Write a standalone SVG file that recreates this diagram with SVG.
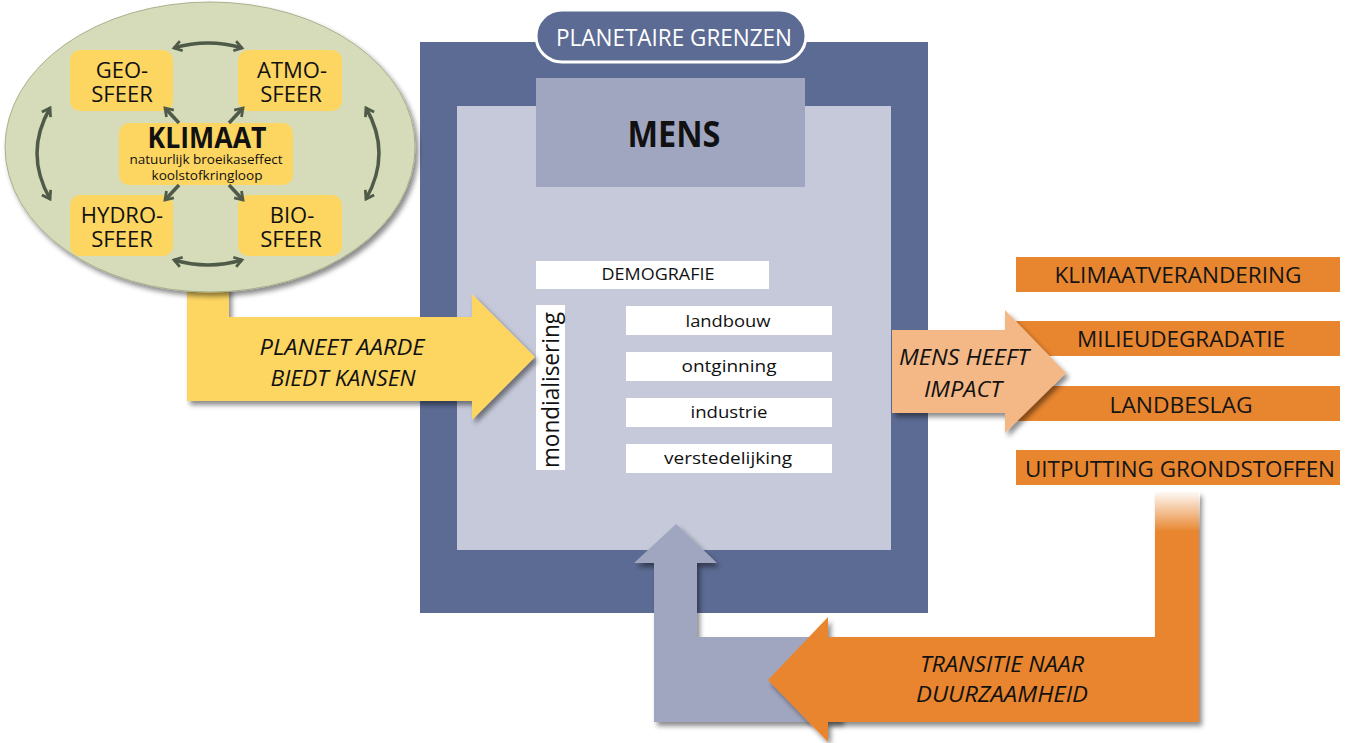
<svg xmlns="http://www.w3.org/2000/svg" width="1346" height="743" viewBox="0 0 1346 743">
<defs>
<style>
text{font-family:"Open Sans","Liberation Sans",sans-serif;}
.sph{font-size:22px;fill:#111;text-anchor:middle;}
.ybox{fill:#fdd662;}
.wbox{fill:#ffffff;}
.act{font-size:17px;fill:#111;text-anchor:middle;}
.olab{fill:#e8852f;}
.otxt{font-size:21px;fill:#151515;text-anchor:middle;}
.ital{font-size:21px;font-style:italic;fill:#111;text-anchor:middle;}
.conn{fill:none;stroke:#4f5a48;stroke-width:3.5;}
</style>
<filter id="sh" x="-10%" y="-10%" width="130%" height="130%">
<feDropShadow dx="3" dy="4" stdDeviation="2.5" flood-color="#000" flood-opacity="0.45"/>
</filter>
<marker id="ah" viewBox="0 0 10 10" refX="7" refY="5" markerWidth="3.6" markerHeight="3.6" orient="auto-start-reverse" markerUnits="strokeWidth">
<path d="M1,1 L7,5 L1,9" fill="none" stroke="#4f5a48" stroke-width="2.2"/>
</marker>
<linearGradient id="fade" x1="0" y1="0" x2="0" y2="1">
<stop offset="0" stop-color="#fff" stop-opacity="1"/>
<stop offset="1" stop-color="#fff" stop-opacity="0"/>
</linearGradient>
</defs>
<rect width="1346" height="743" fill="#fff"/>

<g id="planetaire-grenzen">
<rect x="420" y="42" width="508" height="571" fill="#5c6b93"/>
<rect x="457" y="106" width="434" height="444" fill="#c5c9d9"/>
<rect x="536" y="10" width="270" height="52" rx="26" fill="#5c6b93" stroke="#fff" stroke-width="3"/>
<text x="674" y="46" font-size="24" fill="#fff" text-anchor="middle" textLength="236" lengthAdjust="spacingAndGlyphs">PLANETAIRE GRENZEN</text>
</g>

<g id="mens">
<rect x="536" y="78" width="269" height="109" fill="#a1a6c0"/>
<text x="674" y="147" font-size="35" font-weight="bold" fill="#111" text-anchor="middle" textLength="93" lengthAdjust="spacingAndGlyphs">MENS</text>
</g>

<g id="demografie">
<rect class="wbox" x="536" y="261" width="233" height="28"/>
<text x="658" y="280" font-size="16" fill="#111" text-anchor="middle" textLength="113" lengthAdjust="spacingAndGlyphs">DEMOGRAFIE</text>
</g>
<g id="mondialisering">
<rect class="wbox" x="536" y="305" width="29" height="165"/>
<text x="0" y="0" font-size="23" fill="#111" text-anchor="middle" transform="translate(559,390) rotate(-90)" textLength="156" lengthAdjust="spacingAndGlyphs">mondialisering</text>
</g>
<g id="landbouw">
<rect class="wbox" x="626" y="306" width="206" height="29"/>
<text class="act" x="728" y="327" textLength="85" lengthAdjust="spacingAndGlyphs">landbouw</text>
</g>
<g id="ontginning">
<rect class="wbox" x="626" y="352" width="206" height="29"/>
<text class="act" x="729" y="372" textLength="95" lengthAdjust="spacingAndGlyphs">ontginning</text>
</g>
<g id="industrie">
<rect class="wbox" x="626" y="398" width="206" height="29"/>
<text class="act" x="729" y="418" textLength="77" lengthAdjust="spacingAndGlyphs">industrie</text>
</g>
<g id="verstedelijking">
<rect class="wbox" x="626" y="444" width="206" height="29"/>
<text class="act" x="728" y="464" textLength="128" lengthAdjust="spacingAndGlyphs">verstedelijking</text>
</g>

<g id="arrow-planeet">
<path d="M187,285 L229,285 L229,317 L472,317 L472,294 L535,357 L472,420 L472,401 L187,401 Z" fill="#fdd662" filter="url(#sh)"/>
<text class="ital" x="342" y="355" textLength="165" lengthAdjust="spacingAndGlyphs">PLANEET AARDE</text>
<text class="ital" x="343" y="386" textLength="145" lengthAdjust="spacingAndGlyphs">BIEDT KANSEN</text>
</g>

<g id="aarde">
<ellipse cx="210" cy="147" rx="205" ry="145" fill="#d6dcb9" stroke="#a9b08c" stroke-width="1" filter="url(#sh)"/>
</g>
<g id="geosfeer">
<rect class="ybox" x="70" y="50" width="103" height="61" rx="10"/>
<text class="sph" x="122" y="78">GEO-</text>
<text class="sph" x="122" y="102">SFEER</text>
</g>
<g id="atmosfeer">
<rect class="ybox" x="238" y="50" width="104" height="61" rx="10"/>
<text class="sph" x="292" y="78">ATMO-</text>
<text class="sph" x="291" y="102">SFEER</text>
</g>
<g id="klimaat">
<rect class="ybox" x="119" y="123" width="174" height="62" rx="10"/>
<text x="207" y="148" font-size="28" font-weight="bold" fill="#111" text-anchor="middle" textLength="119" lengthAdjust="spacingAndGlyphs">KLIMAAT</text>
<text x="206" y="164" font-size="13" fill="#111" text-anchor="middle" textLength="153" lengthAdjust="spacingAndGlyphs">natuurlijk broeikaseffect</text>
<text x="207" y="180" font-size="13" fill="#111" text-anchor="middle" textLength="111" lengthAdjust="spacingAndGlyphs">koolstofkringloop</text>
</g>
<g id="hydrosfeer">
<rect class="ybox" x="70" y="195" width="103" height="61" rx="10"/>
<text class="sph" x="122" y="223">HYDRO-</text>
<text class="sph" x="122" y="247">SFEER</text>
</g>
<g id="biosfeer">
<rect class="ybox" x="238" y="195" width="104" height="61" rx="10"/>
<text class="sph" x="292" y="223">BIO-</text>
<text class="sph" x="291" y="247">SFEER</text>
</g>

<g id="connectors">
<path class="conn" d="M174,48 Q208,38 242,48" marker-start="url(#ah)" marker-end="url(#ah)"/>
<path class="conn" d="M174,260 Q208,270 242,260" marker-start="url(#ah)" marker-end="url(#ah)"/>
<path class="conn" d="M50,108 Q24,153 50,199" marker-start="url(#ah)" marker-end="url(#ah)"/>
<path class="conn" d="M366,108 Q392,153 366,199" marker-start="url(#ah)" marker-end="url(#ah)"/>
<path class="conn" d="M179,123 L165,108" marker-end="url(#ah)"/>
<path class="conn" d="M229,123 L243,108" marker-end="url(#ah)"/>
<path class="conn" d="M179,185 L165,200" marker-end="url(#ah)"/>
<path class="conn" d="M229,185 L243,200" marker-end="url(#ah)"/>
</g>

<g id="klimaatverandering">
<rect class="olab" x="1016" y="257" width="324" height="35"/>
<text class="otxt" x="1178" y="283" textLength="247" lengthAdjust="spacingAndGlyphs">KLIMAATVERANDERING</text>
</g>
<g id="milieudegradatie">
<rect class="olab" x="1016" y="321" width="324" height="35"/>
<text class="otxt" x="1181" y="347" textLength="208" lengthAdjust="spacingAndGlyphs">MILIEUDEGRADATIE</text>
</g>
<g id="landbeslag">
<rect class="olab" x="1016" y="386" width="324" height="35"/>
<text class="otxt" x="1181" y="413" textLength="143" lengthAdjust="spacingAndGlyphs">LANDBESLAG</text>
</g>
<g id="uitputting">
<rect class="olab" x="1016" y="450" width="324" height="35"/>
<text class="otxt" x="1180" y="477" textLength="310" lengthAdjust="spacingAndGlyphs">UITPUTTING GRONDSTOFFEN</text>
</g>

<g id="arrow-impact">
<path d="M892,330 L1005,330 L1005,310 L1066,373 L1005,433 L1005,413 L892,413 Z" fill="#f3b886" filter="url(#sh)"/>
<text class="ital" x="964" y="365" textLength="130" lengthAdjust="spacingAndGlyphs">MENS HEEFT</text>
<text class="ital" x="963" y="397" textLength="78" lengthAdjust="spacingAndGlyphs">IMPACT</text>
</g>

<g id="arrow-terug">
<path d="M654,722 L654,563 L634,563 L676,524 L717,563 L697,563 L697,637 L841,637 L841,722 Z" fill="#a1a6c0" filter="url(#sh)"/>
</g>

<g id="arrow-transitie">
<path d="M1155,492 L1199,492 L1199,722 L828,722 L828,742 L768,680 L828,617 L828,637 L1155,637 Z" fill="#e8852f" filter="url(#sh)"/>
<rect x="1155" y="490" width="45" height="42" fill="url(#fade)"/>
<text class="ital" x="1002" y="672" textLength="164" lengthAdjust="spacingAndGlyphs">TRANSITIE NAAR</text>
<text class="ital" x="1002" y="702" textLength="172" lengthAdjust="spacingAndGlyphs">DUURZAAMHEID</text>
</g>
</svg>
